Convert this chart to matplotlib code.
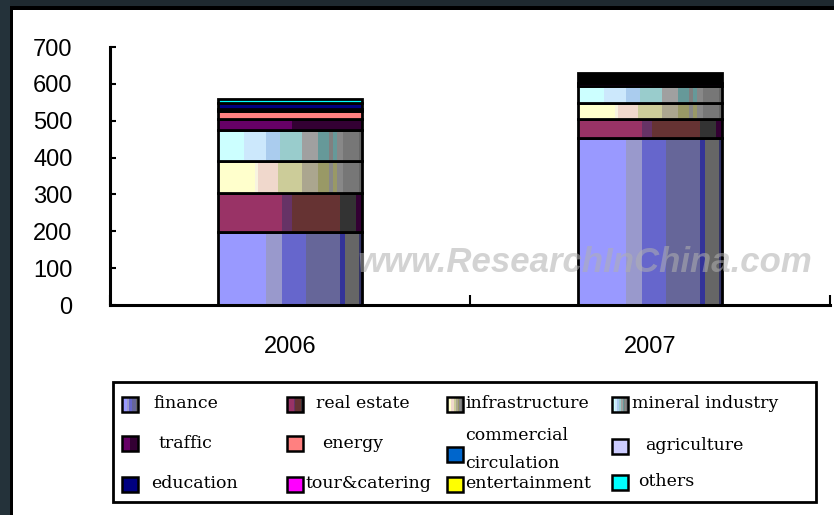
import numpy as np
import matplotlib
matplotlib.use('Agg')
import matplotlib.pyplot as plt
from matplotlib.patches import Rectangle
from matplotlib import font_manager

# data
years = ['2006', '2007']
finance = [199, 454]
real_estate = [104, 51]
infrastructure = [88, 42]
mineral_industry = [84, 47]
traffic = [30, 8]
energy = [21, 0]
commercial_circulation = [7, 0]
agriculture = [0, 0]
education = [15, 27]
tour_catering = [0, 0]
entertainment = [0, 0]
others = [10, 0]

categories = ['finance', 'real estate', 'infrastructure', 'mineral industry',
              'traffic', 'energy', 'commercial circulation', 'agriculture',
              'education', 'tour&catering', 'entertainment', 'others']
values = [finance, real_estate, infrastructure, mineral_industry, traffic,
          energy, commercial_circulation, agriculture, education,
          tour_catering, entertainment, others]

# striped fills imitate the old excel gradient look
stripes = {
    'finance': [(0.336, '#9999FF'), (0.110, '#9999CC'), (0.166, '#6666CC'),
                (0.234, '#666699'), (0.037, '#333399'), (0.097, '#666666'),
                (0.020, '#333366')],
    'real estate': [(0.446, '#993366'), (0.069, '#663366'), (0.331, '#663333'),
                    (0.110, '#333333'), (0.044, '#330033')],
    'infrastructure': [(0.260, '#FFFFCC'), (0.016, '#F8F4E0'), (0.143, '#F0D8CC'),
                       (0.166, '#CCCC99'), (0.110, '#ABA68F'), (0.078, '#999966'),
                       (0.028, '#888888'), (0.028, '#999966'), (0.037, '#888888'),
                       (0.115, '#777777'), (0.019, '#666666')],
    'mineral industry': [(0.184, '#CCFFFF'), (0.152, '#CCE8FC'), (0.092, '#AACCEE'),
                         (0.156, '#99CCCC'), (0.110, '#A0A0A0'), (0.078, '#669999'),
                         (0.028, '#808080'), (0.028, '#669999'), (0.037, '#888888'),
                         (0.115, '#777777'), (0.020, '#666666')],
    'traffic': [(0.515, '#660066'), (0.485, '#330033')],
}
solid = {
    'energy': ['#FF8080', '#FF8080'],
    'commercial circulation': ['#0066CC', '#0066CC'],
    'agriculture': ['#CCCCFF', '#CCCCFF'],
    'education': ['#000080', '#000000'],
    'tour&catering': ['#FF00FF', '#FF00FF'],
    'entertainment': ['#FFFF00', '#FFFF00'],
    'others': ['#00FFFF', '#00FFFF'],
}

# narrow font for the axis numbers if we have one
installed = {f.name for f in font_manager.fontManager.ttflist}
if 'Liberation Sans Narrow' in installed:
    tick_font = dict(family=['Liberation Sans Narrow'], size=20)
else:
    tick_font = dict(family=['Liberation Sans'], size=17)

W_PX, H_PX = 834, 515
fig = plt.figure(figsize=(W_PX / 100, H_PX / 100), dpi=100)
ax = fig.add_axes([110 / W_PX, 1 - 305 / H_PX, 720 / W_PX, (305 - 47) / H_PX])

x = np.arange(len(years))
bw = 0.4
bottom = np.zeros(len(years))
for name, vals in zip(categories, values):
    vals = np.array(vals, dtype=float)
    m = vals > 0
    if not m.any():
        continue
    if name in stripes:
        left = x[m] - bw / 2
        for frac, c in stripes[name]:
            ax.bar(left, vals[m], width=bw * frac, bottom=bottom[m], align='edge',
                   color=c, linewidth=0)
            left = left + bw * frac
    else:
        ax.bar(x[m], vals[m], bw, bottom=bottom[m],
               color=np.array(solid[name])[m], linewidth=0)
    ax.bar(x[m], vals[m], bw, bottom=bottom[m], fill=False,
           edgecolor='black', linewidth=2)
    bottom += vals

ax.set_xlim(-0.5, 1.5)
ax.set_ylim(0, 700)
ax.spines[['top', 'right']].set_visible(False)
for s in ['left', 'bottom']:
    ax.spines[s].set_linewidth(2.2)

ax.set_yticks(np.arange(0, 701, 100))
ax.set_yticklabels([str(v) for v in range(0, 701, 100)], **tick_font)
ax.tick_params(axis='y', direction='in', length=4, width=1.5, pad=27)
ax.set_xticks([-0.5, 0.5, 1.5])
ax.set_xticklabels([])
ax.tick_params(axis='x', which='major', direction='in', length=7, width=1.5)
ax.set_xticks(x, minor=True)
ax.set_xticklabels(years, minor=True, **tick_font)
ax.tick_params(axis='x', which='minor', length=0, pad=22)

# overlay in pixel coordinates for the frame, legend and watermark
ov = fig.add_axes([0, 0, 1, 1])
ov.set_xlim(0, W_PX)
ov.set_ylim(H_PX, 0)
ov.axis('off')
ov.patch.set_visible(False)

ov.add_patch(Rectangle((0, 0), W_PX, 6, color='#1f2a30', lw=0))
ov.add_patch(Rectangle((0, 6), W_PX, 3.5, color='black', lw=0))
ov.add_patch(Rectangle((0, 0), 10, H_PX, color='#24323a', lw=0))
ov.add_patch(Rectangle((10, 6), 3, H_PX, color='black', lw=0))

ov.text(585, 262, 'www.ResearchInChina.com', ha='center', va='center',
        family=['Liberation Sans', 'DejaVu Sans'], size=25, weight='bold',
        style='italic', color='#b0b0b0', alpha=0.55)

# legend box
ov.add_patch(Rectangle((113, 382), 703, 120, fill=False, edgecolor='black', lw=2))


def swatch(x0, yc, name):
    w, h = 16, 15
    if name in stripes:
        left = x0
        for frac, c in stripes[name]:
            ov.add_patch(Rectangle((left, yc - h / 2), w * frac, h, color=c, lw=0))
            left += w * frac
    else:
        ov.add_patch(Rectangle((x0, yc - h / 2), w, h, color=solid[name][0], lw=0))
    ov.add_patch(Rectangle((x0, yc - h / 2), w, h, fill=False, edgecolor='black', lw=1.8))


leg_font = dict(family=['DejaVu Serif'], size=12.5, va='center', ha='left')
entries = [
    ('finance', 122, 404, 153, 'finance'),
    ('real estate', 287, 404, 316, 'real estate'),
    ('infrastructure', 447, 404, 465, 'infrastructure'),
    ('mineral industry', 612, 404, 632, 'mineral industry'),
    ('traffic', 122, 443, 159, 'traffic'),
    ('energy', 287, 443, 322, 'energy'),
    ('agriculture', 612, 446, 645, 'agriculture'),
    ('education', 122, 484, 151, 'education'),
    ('tour&catering', 287, 484, 306, 'tour&catering'),
    ('entertainment', 447, 484, 465, 'entertainment'),
    ('others', 612, 482, 638, 'others'),
]
for name, mx, my, tx, label in entries:
    swatch(mx, my, name)
    ov.text(tx, my, label, **leg_font)

swatch(447, 454, 'commercial circulation')
ov.text(465, 435, 'commercial', **leg_font)
ov.text(465, 463, 'circulation', **leg_font)

fig.savefig('out.png', dpi=100)
